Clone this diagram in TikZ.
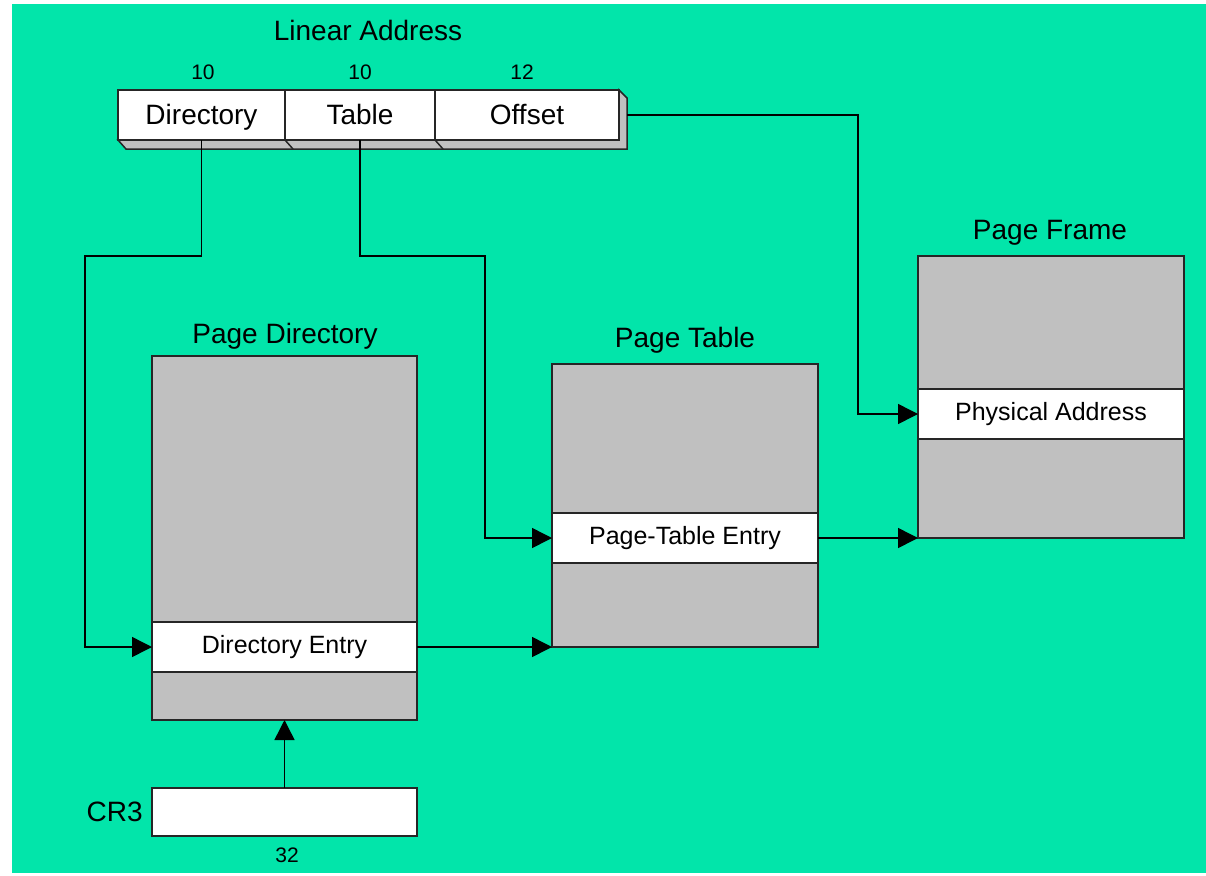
\documentclass[tikz,border=0pt]{standalone}
\usepackage{fontspec}
\setmainfont{Liberation Sans}
\usetikzlibrary{arrows.meta}
\definecolor{bggreen}{RGB}{2,229,170}
\definecolor{memgray}{RGB}{192,192,192}
\tikzset{
  every node/.style={outer sep=0pt},
  membox/.style={draw=black!85, line width=1.5pt, fill=memgray},
  entrybox/.style={draw=black!85, line width=1.5pt, fill=white, inner sep=0pt,
    text height=18pt, text depth=5pt},
  field/.style={draw=black!85, line width=1.5pt, fill=white, inner sep=0pt,
    minimum height=50pt, text height=24pt, text depth=6pt},
  link/.style={draw=black, line width=1.5pt},
  arr/.style={link, -{Triangle[length=20pt, width=20pt]}},
  big/.style={font=\fontsize{28}{32}\selectfont},
  mid/.style={font=\fontsize{25}{29}\selectfont},
  small/.style={font=\fontsize{21}{25}\selectfont},
}
\begin{document}
\begin{tikzpicture}[x=1pt, y=-1pt]
  % page and background
  \useasboundingbox (0,0) rectangle (1206,875);
  \fill[white] (0,0) rectangle (1206,875);
  \fill[bggreen] (12,4) rectangle (1206,873);

  % linear address register with 3-D edge
  \fill[memgray, draw=black!85, line width=1.5pt]
    (118,140) -- (126,149) -- (627,149) -- (627,98) -- (619,90) -- (619,140) -- cycle;
  \draw[black!85, line width=1.5pt] (285,140) -- (293,149) (435,140) -- (443,149);
  \node[field, minimum width=167pt, anchor=north west, big] (dir) at (118,90) {Directory};
  \node[field, minimum width=150pt, anchor=north west, big] (tab) at (285,90) {Table};
  \node[field, minimum width=184pt, anchor=north west, big] (off) at (435,90) {Offset};
  \node[big] (lin) at (368,30) {Linear Address};
  \node[small] (n1) at (203,72) {10};
  \node[small] (n2) at (360,72) {10};
  \node[small] (n3) at (522,72) {12};
  \coordinate (offR) at (627,115);

  % page directory
  \node[membox, minimum width=265pt, minimum height=364pt, anchor=north west] (pd) at (152,356) {};
  \node[entrybox, minimum width=265pt, minimum height=50pt, anchor=north west, mid] (de) at (152,622) {Directory Entry};
  \node[big] (pdl) at (285,336) {Page Directory};

  % page table
  \node[membox, minimum width=266pt, minimum height=283pt, anchor=north west] (pt) at (552,364) {};
  \node[entrybox, minimum width=266pt, minimum height=50pt, anchor=north west, mid] (pte) at (552,513) {Page-Table Entry};
  \node[big] (ptl) at (685,340) {Page Table};

  % page frame
  \node[membox, minimum width=266pt, minimum height=282pt, anchor=north west] (pf) at (918,256) {};
  \node[entrybox, minimum width=266pt, minimum height=50pt, anchor=north west, mid] (pa) at (918,389) {Physical Address};
  \node[big] (pfl) at (1050,233) {Page Frame};

  % CR3 register
  \node[entrybox, minimum width=265pt, minimum height=48pt, anchor=north west] (cr3) at (152,788) {};
  \node[big, anchor=east] (cr3l) at (146,812) {CR3};
  \node[small] (n32) at (287,855) {32};

  % connectors
  \draw[arr] (dir.south) -- ++(0,116) -| (85,647) -- (de.west);
  \draw[arr] (tab.south) -- ++(0,116) -| (485,538) -- (pte.west);
  \draw[arr] (offR) -| (858,414) -- (pa.west);
  \draw[arr] (de.east) -- (de.east -| pt.west);
  \draw[arr] (pte.east) -- (pte.east -| pf.west);
  \draw[arr] (cr3.north) -- (pd.south);
\end{tikzpicture}
\end{document}
